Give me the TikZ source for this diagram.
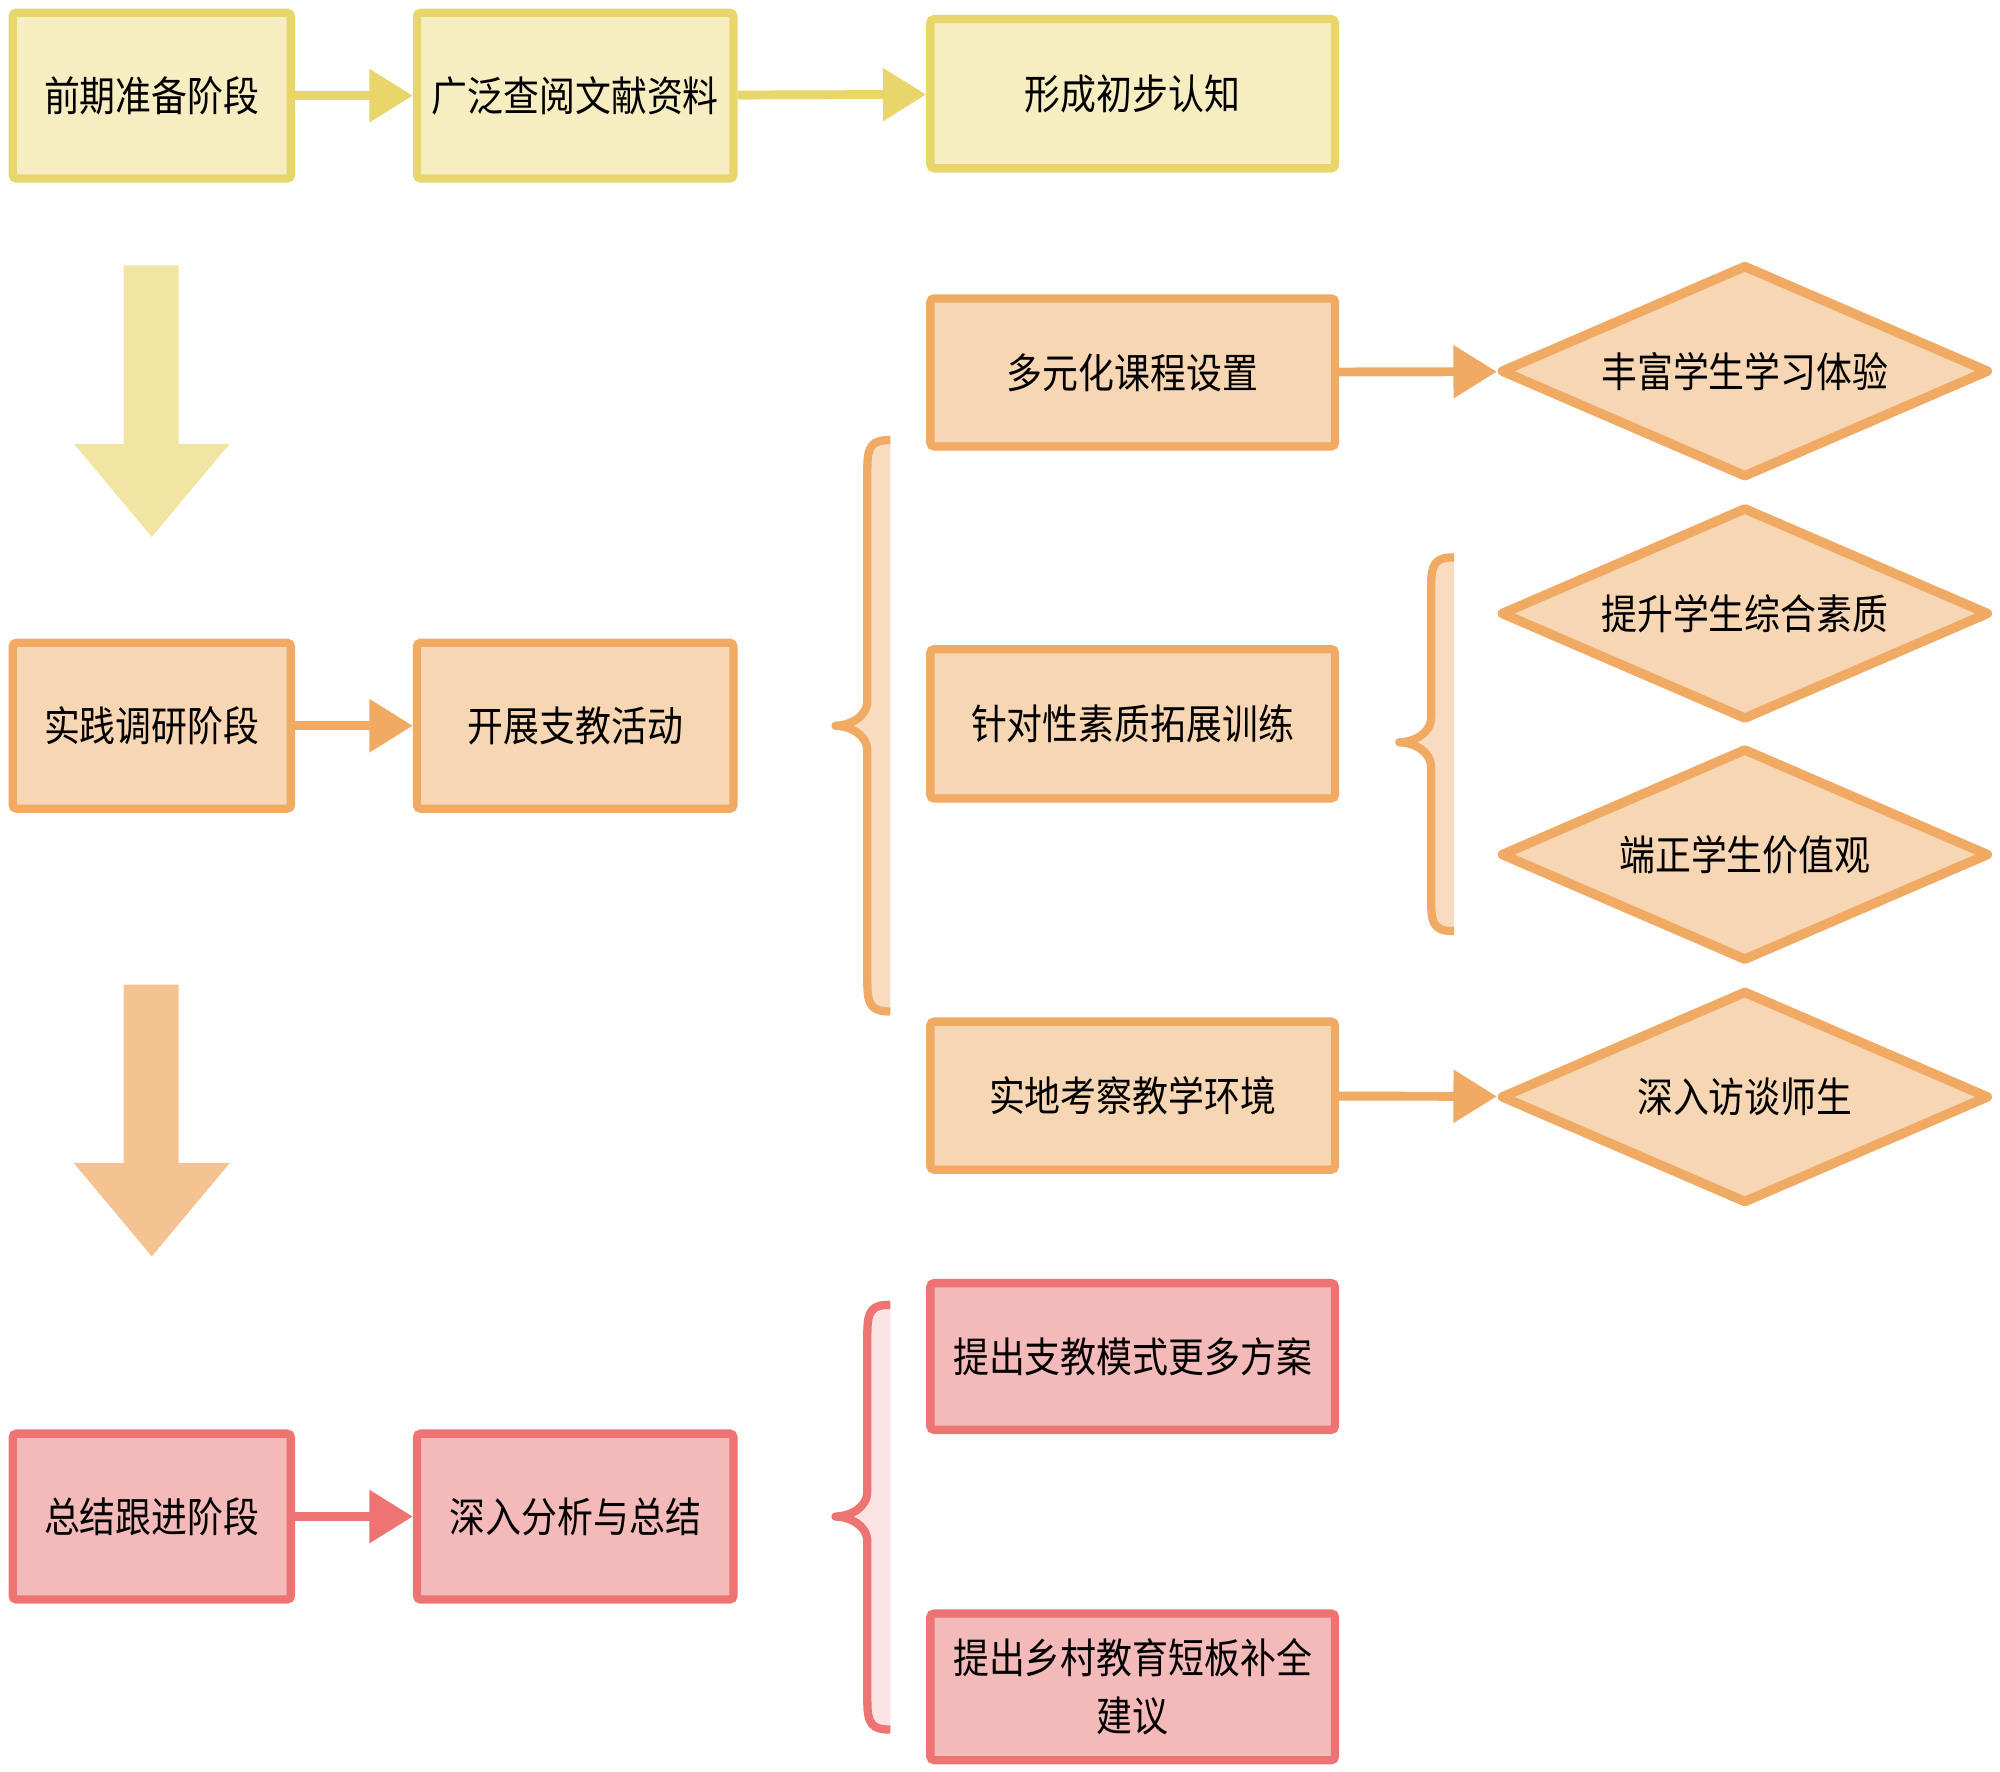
\documentclass[tikz,border=0pt]{standalone}
\usepackage{fontspec}
\setmainfont{Noto Sans CJK SC}[FakeStretch=0.87]
\usetikzlibrary{arrows.meta,shapes.geometric}
\definecolor{yfill}{HTML}{F6EDC1}
\definecolor{yline}{HTML}{E8D66A}
\definecolor{ybig}{HTML}{F2E4A2}
\definecolor{ofill}{HTML}{F7D6B4}
\definecolor{oline}{HTML}{F0AA64}
\definecolor{obig}{HTML}{F5C291}
\definecolor{obrace}{HTML}{F9DCC0}
\definecolor{rfill}{HTML}{F4B9B9}
\definecolor{rline}{HTML}{EE7373}
\definecolor{rbrace}{HTML}{FBE3E3}
\newcommand{\mybrace}[7]{%
  \fill[#6] ({#2},{#3}) .. controls ({#2-14},{#3}) and ({#2-18},{#3+4}) .. ({#2-18},{#3+22})
    -- ({#2-18},{#4-20}) .. controls ({#2-18},{#4-6}) and ({#1+10},{#4}) .. ({#1},{#4})
    .. controls ({#1+10},{#4}) and ({#2-18},{#4+6}) .. ({#2-18},{#4+20})
    -- ({#2-18},{#5-22}) .. controls ({#2-18},{#5-4}) and ({#2-14},{#5}) .. ({#2},{#5}) -- cycle;
  \draw[#7,line width=0.065cm,line join=round] ({#2},{#3}) .. controls ({#2-14},{#3}) and ({#2-18},{#3+4}) .. ({#2-18},{#3+22})
    -- ({#2-18},{#4-20}) .. controls ({#2-18},{#4-6}) and ({#1+10},{#4}) .. ({#1},{#4})
    .. controls ({#1+10},{#4}) and ({#2-18},{#4+6}) .. ({#2-18},{#4+20})
    -- ({#2-18},{#5-22}) .. controls ({#2-18},{#5-4}) and ({#2-14},{#5}) .. ({#2},{#5});
}
\begin{document}
\begin{tikzpicture}[x=0.01cm,y=-0.01cm,
  txt/.style={font=\fontsize{9.2pt}{13pt}\selectfont, text=black, align=center},
  bx/.style={txt, rectangle, rounded corners=0.03cm, line width=0.065cm, inner sep=0pt},
  ybox/.style={bx, draw=yline, fill=yfill},
  obox/.style={bx, draw=oline, fill=ofill},
  rbox/.style={bx, draw=rline, fill=rfill},
  small/.style={minimum width=2.18cm, minimum height=1.30cm},
  mid/.style={minimum width=2.48cm, minimum height=1.30cm},
  wide/.style={minimum width=3.17cm, minimum height=1.16cm},
  dia/.style={txt, diamond, draw=oline, fill=ofill, line width=0.075cm, line join=round,
    minimum width=3.83cm, minimum height=1.67cm, inner sep=0pt, aspect=2.3},
  conn/.style={line width=0.07cm, -{Triangle[length=0.34cm,width=0.40cm]}},
]
\useasboundingbox (0,0) rectangle (1568,1389);

% yellow row
\node[ybox,small] (A) at (119,75) {前期准备阶段};
\node[ybox,mid] (B) at (451,75) {广泛查阅文献资料};
\node[ybox,wide,minimum height=1.17cm] (C) at (888,73.5) {形成初步认知};
\draw[conn,yline] (A) -- (B);
\draw[conn,yline] (B) -- (C);
\fill[ybig] (97,208) -- (140,208) -- (140,348) -- (180,348) -- (119,421) -- (58,348) -- (97,348) -- cycle;

% orange row
\node[obox,small] (D) at (119,569) {实践调研阶段};
\node[obox,mid] (E) at (451,569) {开展支教活动};
\draw[conn,oline] (D) -- (E);
\mybrace{655}{698}{345}{569}{793}{obrace}{oline}
\node[obox,wide] (F) at (888,292) {多元化课程设置};
\node[obox,wide,minimum height=1.17cm] (G) at (888,567.5) {针对性素质拓展训练};
\node[obox,wide] (H) at (888,859) {实地考察教学环境};
\node[dia] (I) at (1368,291) {丰富学生学习体验};
\node[dia] (J) at (1368,481) {提升学生综合素质};
\node[dia] (K) at (1368,670) {端正学生价值观};
\node[dia] (L) at (1368,860) {深入访谈师生};
\draw[conn,oline] (F) -- (I);
\draw[conn,oline] (H) -- (L);
\mybrace{1097}{1140}{437}{582}{730}{obrace}{oline}
\fill[obig] (97,772) -- (140,772) -- (140,912) -- (180,912) -- (119,985) -- (58,912) -- (97,912) -- cycle;

% red row
\node[rbox,small] (M) at (119,1189) {总结跟进阶段};
\node[rbox,mid] (N) at (451,1189) {深入分析与总结};
\draw[conn,rline] (M) -- (N);
\mybrace{655}{698}{1023}{1189}{1356}{rbrace}{rline}
\node[rbox,wide,minimum height=1.15cm] (O) at (888,1063.5) {提出支教模式更多方案};
\node[rbox,wide,minimum height=1.15cm] (P) at (888,1322.5) {提出乡村教育短板补全\\建议};
\end{tikzpicture}
\end{document}
